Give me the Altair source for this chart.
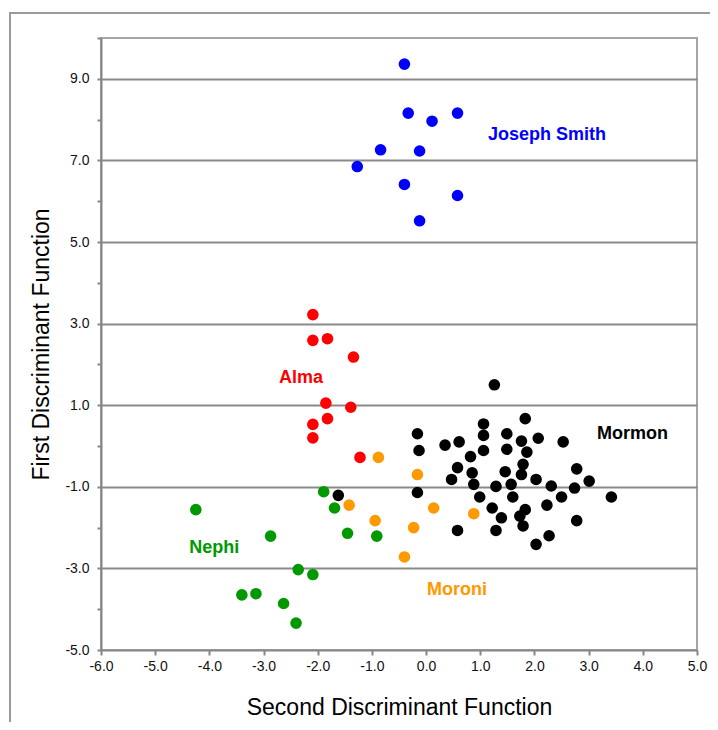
import altair as alt
import pandas as pd

# ---- data ----
js_x = [-0.40, -0.33, 0.11, 0.58, -0.84, -0.12, -1.27, -0.40, 0.58, -0.12]
js_y = [9.36, 8.16, 7.96, 8.16, 7.26, 7.23, 6.85, 6.41, 6.14, 5.52]

alma_x = [-2.09, -2.09, -1.82, -1.34, -1.85, -1.39, -1.82, -2.09, -2.09, -1.22]
alma_y = [3.22, 2.59, 2.63, 2.18, 1.05, 0.95, 0.67, 0.53, 0.20, -0.28]

mormon_x = [1.26, 1.83, 1.06, -0.16, 1.06, 1.49, 0.35, 0.61, 1.76, 2.07, 2.53,
            -0.13, 1.06, 1.49, 1.86, 0.82, 1.79, 0.58, 1.46, 0.85, 1.76, 2.78,
            0.47, 2.03, 3.01, 0.88, 1.57, 1.29, 2.31, 2.74, -0.16, 0.99, 1.60,
            2.50, 3.42, 2.23, 1.22, 1.83, 1.39, 1.73, 1.79, 2.78, 0.58, 1.29,
            2.27, 2.03, -1.62]
mormon_y = [1.50, 0.67, 0.54, 0.30, 0.26, 0.30, 0.02, 0.10, 0.12, 0.19, 0.10,
            -0.11, -0.11, -0.08, -0.15, -0.26, -0.45, -0.53, -0.63, -0.66, -0.70, -0.56,
            -0.82, -0.82, -0.86, -0.94, -0.94, -0.99, -0.98, -1.03, -1.14, -1.25, -1.25,
            -1.25, -1.25, -1.45, -1.52, -1.56, -1.76, -1.72, -1.96, -1.83, -2.07, -2.07,
            -2.20, -2.41, -1.21]

moroni_x = [-0.88, -0.16, -1.42, 0.14, 0.88, -0.94, -0.23, -0.40]
moroni_y = [-0.28, -0.70, -1.45, -1.52, -1.66, -1.83, -2.00, -2.72]

nephi_x = [-4.25, -1.89, -1.69, -2.87, -1.45, -0.91, -2.36, -2.09, -3.40, -3.14, -2.63, -2.40]
nephi_y = [-1.56, -1.12, -1.52, -2.21, -2.14, -2.21, -3.03, -3.15, -3.65, -3.62, -3.86, -4.34]

groups = ["Joseph Smith", "Alma", "Mormon", "Moroni", "Nephi"]
colors = ["#0000FF", "#FF0000", "#000000", "#FF9900", "#009900"]

label_x = [2.23, -2.31, 3.81, 0.57, -3.91]
label_y = [7.63, 1.67, 0.30, -3.53, -2.49]

xs = [js_x, alma_x, mormon_x, moroni_x, nephi_x]
ys = [js_y, alma_y, mormon_y, moroni_y, nephi_y]

rows = []
for g, gx, gy in zip(groups, xs, ys):
    for a, b in zip(gx, gy):
        rows.append({"group": g, "x": a, "y": b})
df = pd.DataFrame(rows)
labels = pd.DataFrame({"group": groups, "x": label_x, "y": label_y})

color_scale = alt.Scale(domain=groups, range=colors)

x_vals = [-6 + 0.5 * i for i in range(23)]
y_vals = [-5 + 0.5 * i for i in range(31)]

x_major = "abs(datum.value - round(datum.value)) < 0.001"
y_grid = "abs((datum.value + 5) % 2) < 0.001 && datum.value < 9.5 && datum.value > -4.5"

FONT = "Liberation Sans"

x_enc = alt.X(
    "x:Q",
    scale=alt.Scale(domain=[-6, 5], nice=False, zero=False),
    axis=alt.Axis(
        title="Second Discriminant Function",
        values=x_vals,
        labelExpr="abs(datum.value - round(datum.value)) < 0.001 ? replace(format(datum.value, '.1f'), '\u2212', '-') : ''",
        tickSize={"condition": {"test": x_major, "value": 5}, "value": 3},
        grid=False,
        labelFontSize=14,
        labelColor="#111111",
        labelPadding=4,
        labelFlush=False,
        labelOverlap=False,
        titleFontSize=23,
        titleFontWeight="normal",
        titleColor="#000000",
        titlePadding=23,
        titleFont=FONT,
        labelFont=FONT,
    ),
)
y_enc = alt.Y(
    "y:Q",
    scale=alt.Scale(domain=[-5, 10], nice=False, zero=False),
    axis=alt.Axis(
        title="First Discriminant Function",
        values=y_vals,
        labelExpr="abs((datum.value + 5) % 2) < 0.001 && datum.value < 9.5 ? replace(format(datum.value, '.1f'), '\u2212', '-') : ''",
        tickSize=4,
        gridOpacity={"condition": {"test": y_grid, "value": 1}, "value": 0},
        gridColor="#8a8a8a",
        gridWidth=2,
        labelFontSize=14,
        labelColor="#111111",
        labelPadding=8,
        labelFlush=False,
        labelOverlap=False,
        titleFontSize=23,
        titleFontWeight="normal",
        titleColor="#000000",
        titlePadding=11,
        titleFont=FONT,
        labelFont=FONT,
    ),
)

points = alt.Chart(df).mark_circle(size=135, opacity=1).encode(
    x=x_enc,
    y=y_enc,
    color=alt.Color("group:N", scale=color_scale, legend=None),
)

texts = alt.Chart(labels).mark_text(
    fontSize=18, fontWeight="bold", font=FONT, align="center", baseline="middle"
).encode(
    x="x:Q",
    y="y:Q",
    text="group:N",
    color=alt.Color("group:N", scale=color_scale, legend=None),
)

frame = alt.Chart(pd.DataFrame({"a": [0]})).mark_rect(
    fill=None, stroke="#9a9a9a", strokeWidth=2, clip=False
).encode(
    x=alt.value(-91), x2=alt.value(700), y=alt.value(-25), y2=alt.value(800)
)

chart = alt.layer(frame, points, texts).properties(
    width=596,
    height=612,
    autosize=alt.AutoSizeParams(type="none"),
    padding={"left": 93, "top": 30, "right": 13, "bottom": 72},
).configure_view(
    stroke="#a6a6a6", strokeWidth=2
).configure_axis(
    domainColor="#868686",
    domainWidth=2,
    tickColor="#868686",
    tickWidth=2,
)

chart.save("out.html", embed_options={"renderer": "svg", "actions": False})
